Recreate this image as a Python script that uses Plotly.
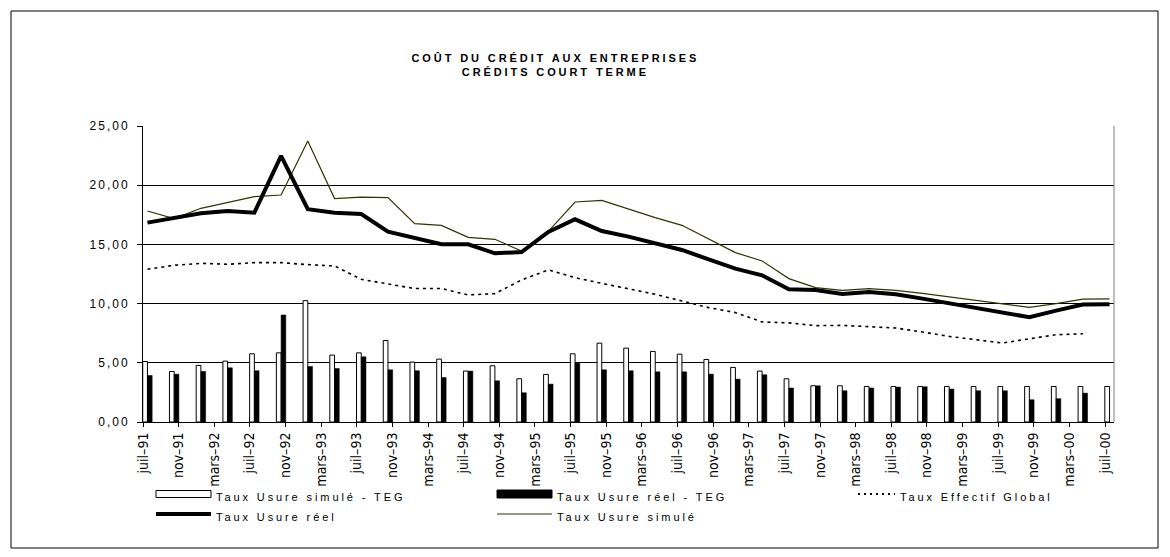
import plotly.graph_objects as go

# ---------------- data (quarterly observations) ----------------
periods = ["1991-07", "1991-10", "1992-01", "1992-04", "1992-07", "1992-10",
           "1993-01", "1993-04", "1993-07", "1993-10", "1994-01", "1994-04",
           "1994-07", "1994-10", "1995-01", "1995-04", "1995-07", "1995-10",
           "1996-01", "1996-04", "1996-07", "1996-10", "1997-01", "1997-04",
           "1997-07", "1997-10", "1998-01", "1998-04", "1998-07", "1998-10",
           "1999-01", "1999-04", "1999-07", "1999-10", "2000-01", "2000-04",
           "2000-07"]

usure_simule_teg = [5.11, 4.27, 4.78, 5.14, 5.76, 5.84, 10.25, 5.65, 5.84, 6.88,
                    5.06, 5.31, 4.30, 4.75, 3.65, 4.02, 5.76, 6.66, 6.24, 5.96,
                    5.73, 5.28, 4.61, 4.30, 3.65, 3.06, 3.06, 3.00, 3.00, 3.00,
                    3.00, 3.00, 3.00, 3.00, 3.00, 3.00, 3.00]

usure_reel_teg = [3.93, 4.04, 4.27, 4.58, 4.33, 9.04, 4.69, 4.52, 5.51, 4.41,
                  4.33, 3.76, 4.30, 3.48, 2.47, 3.20, 4.97, 4.41, 4.33, 4.24,
                  4.24, 4.04, 3.62, 3.99, 2.87, 3.06, 2.64, 2.87, 2.95, 2.98,
                  2.78, 2.64, 2.64, 1.88, 1.97, 2.44, None]

taux_effectif_global = [12.90, 13.24, 13.40, 13.32, 13.46, 13.46, 13.29, 13.18,
                        12.05, 11.69, 11.27, 11.27, 10.73, 10.84, 12.00, 12.85,
                        12.19, 11.71, 11.27, 10.79, 10.22, 9.66, 9.24, 8.45,
                        8.37, 8.14, 8.16, 8.05, 7.94, 7.60, 7.23, 6.95, 6.67,
                        7.03, 7.37, 7.45, None]

taux_usure_reel = [16.84, 17.26, 17.63, 17.82, 17.68, 22.47, 17.97, 17.68, 17.57,
                   16.08, 15.57, 15.01, 15.01, 14.25, 14.36, 16.05, 17.12, 16.13,
                   15.66, 15.09, 14.53, 13.74, 12.95, 12.39, 11.21, 11.15, 10.81,
                   10.98, 10.79, 10.42, 10.03, 9.66, 9.29, 8.85, 9.41, 9.92, 9.94]

taux_usure_simule = [17.82, 17.18, 18.05, 18.53, 19.04, 19.17, 23.73, 18.87, 19.00,
                     18.95, 16.76, 16.61, 15.60, 15.43, 14.44, 16.10, 18.58, 18.72,
                     17.96, 17.26, 16.61, 15.49, 14.31, 13.60, 12.11, 11.35, 11.12,
                     11.27, 11.12, 10.87, 10.56, 10.28, 10.00, 9.68, 10.00, 10.38,
                     10.40]

tick_labels = ["juil–91", "nov–91", "mars–92", "juil–92", "nov–92", "mars–93",
               "juil–93", "nov–93", "mars–94", "juil–94", "nov–94", "mars–95",
               "juil–95", "nov–95", "mars–96", "juil–96", "nov–96", "mars–97",
               "juil–97", "nov–97", "mars–98", "juil–98", "nov–98", "mars–99",
               "juil–99", "nov–99", "mars–00", "juil–00"]

series_names = ["Taux Usure simulé - TEG", "Taux Usure réel - TEG",
                "Taux Effectif Global", "Taux Usure réel", "Taux Usure simulé"]

title_lines = ["COÛT DU CRÉDIT AUX ENTREPRISES", "CRÉDITS COURT TERME"]

# ---------------- helpers ----------------
START_Y, START_M = 1991, 7


def month_index(ym):
    y, m = ym.split("-")
    return (int(y) - START_Y) * 12 + int(m) - START_M


MONTHS_FR = {"janv": 1, "févr": 2, "mars": 3, "avr": 4, "mai": 5, "juin": 6,
             "juil": 7, "août": 8, "sept": 9, "oct": 10, "nov": 11, "déc": 12}


def label_index(lbl):
    mon, yy = lbl.split("–")
    year = 1900 + int(yy) if int(yy) > 50 else 2000 + int(yy)
    return (year - START_Y) * 12 + MONTHS_FR[mon] - START_M


x_pts = [month_index(p) + 0.5 for p in periods]
tick_vals = [label_index(t) for t in tick_labels]

# ---------------- layout geometry (pixels) ----------------
OFF = 8                     # page body margin
W, H = 1154, 541            # figure size
ML, MT = 135, 118
PW = 1106 - ML              # plot right edge at 1106 (figure coords)
PH = 414 - MT               # plot bottom at 414 (figure coords)
MR, MB = W - ML - PW, H - MT - PH


def fx(px):  # page x -> paper
    return (px - OFF - ML) / PW


def fy(py):  # page y -> paper
    return (MT + PH - (py - OFF)) / PH


BAR_W = 0.53
FONT = "Liberation Sans, Arial, sans-serif"

fig = go.Figure()

fig.add_trace(go.Bar(x=x_pts, y=usure_simule_teg, name=series_names[0],
                     width=BAR_W, offset=-BAR_W,
                     marker=dict(color="white", line=dict(color="black", width=1)),
                     showlegend=False))
fig.add_trace(go.Bar(x=x_pts, y=usure_reel_teg, name=series_names[1],
                     width=BAR_W, offset=0,
                     marker=dict(color="black", line=dict(color="black", width=0.5)),
                     showlegend=False))
fig.add_trace(go.Scatter(x=x_pts, y=taux_effectif_global, name=series_names[2],
                         mode="lines", line=dict(color="black", width=1.6, dash="3px,4px"),
                         showlegend=False))
fig.add_trace(go.Scatter(x=x_pts, y=taux_usure_simule, name=series_names[4],
                         mode="lines", line=dict(color="#333300", width=1.2),
                         showlegend=False))
fig.add_trace(go.Scatter(x=x_pts, y=taux_usure_reel, name=series_names[3],
                         mode="lines", line=dict(color="black", width=4),
                         showlegend=False))

shapes = []
# right frame of plot area
shapes.append(dict(type="line", xref="paper", yref="paper", x0=1, x1=1, y0=0, y1=1,
                   line=dict(color="#808080", width=1)))
# outer chart border
shapes.append(dict(type="rect", xref="paper", yref="paper",
                   x0=fx(11), x1=fx(1158), y0=fy(548), y1=fy(11),
                   line=dict(color="black", width=1), fillcolor="rgba(0,0,0,0)"))

# ---- custom legend ----
col_x = [156, 497, 840]
row_y = [497, 517]
SYM_W = 55
annotations = []
legend_items = [
    (0, 0, "rect_white", series_names[0]),
    (1, 0, "rect_black", series_names[1]),
    (2, 0, "dots", series_names[2]),
    (0, 1, "thick", series_names[3]),
    (1, 1, "thin", series_names[4]),
]
for ci, ri, kind, name in legend_items:
    x0 = col_x[ci]
    x1 = x0 + SYM_W
    yc = row_y[ri] - 3
    if kind == "rect_white":
        shapes.append(dict(type="rect", xref="paper", yref="paper",
                           x0=fx(x0), x1=fx(x1), y0=fy(yc + 3.5), y1=fy(yc - 3.5),
                           line=dict(color="black", width=1), fillcolor="white"))
    elif kind == "rect_black":
        shapes.append(dict(type="rect", xref="paper", yref="paper",
                           x0=fx(x0), x1=fx(x1), y0=fy(yc + 4), y1=fy(yc - 4),
                           line=dict(color="black", width=1), fillcolor="black"))
    elif kind == "dots":
        shapes.append(dict(type="line", xref="paper", yref="paper",
                           x0=fx(x0 + 18), x1=fx(x1), y0=fy(yc), y1=fy(yc),
                           line=dict(color="black", width=2, dash="2px,4px")))
    elif kind == "thick":
        shapes.append(dict(type="line", xref="paper", yref="paper",
                           x0=fx(x0), x1=fx(x1), y0=fy(yc), y1=fy(yc),
                           line=dict(color="black", width=4)))
    else:
        shapes.append(dict(type="line", xref="paper", yref="paper",
                           x0=fx(x0), x1=fx(x1), y0=fy(yc), y1=fy(yc),
                           line=dict(color="#333300", width=1.2)))
    annotations.append(dict(text=name, xref="paper", yref="paper",
                            x=fx(x1 + 3), y=fy(row_y[ri]), xanchor="left",
                            yanchor="middle", showarrow=False, align="left",
                            font=dict(family=FONT, size=11, color="black")))

# title
annotations.insert(0, dict(text="<b>" + title_lines[0] + "</b><br><b>" + title_lines[1] + "</b>",
                           xref="paper", yref="paper", x=fx(555), y=fy(65),
                           xanchor="center", yanchor="middle", showarrow=False,
                           align="center",
                           font=dict(family=FONT, size=11, color="black")))

fig.update_layout(
    width=W, height=H,
    margin=dict(l=ML, r=MR, t=MT, b=MB, pad=0),
    paper_bgcolor="white", plot_bgcolor="white",
    separators=", ",
    barmode="overlay",
    showlegend=False,
    shapes=shapes,
    annotations=annotations,
    xaxis=dict(range=[0, 109], tickmode="array", tickvals=tick_vals, ticktext=tick_labels,
               tickangle=-90, ticks="outside", ticklen=4, tickcolor="black",
               showline=True, linecolor="black", linewidth=1, showgrid=False,
               zeroline=False,
               tickfont=dict(family="Liberation Sans Narrow, Arial Narrow, DejaVu Sans Condensed, sans-serif",
                             size=14, color="black")),
    yaxis=dict(range=[0, 25], dtick=5, tick0=0, tickformat=".2f",
               ticks="outside", ticklen=5, tickcolor="black", ticklabelstandoff=5,
               showline=True, linecolor="black", linewidth=1,
               showgrid=True, gridcolor="black", gridwidth=1, zeroline=False,
               tickfont=dict(family=FONT, size=12, color="black")),
)

css = (".ytick text{letter-spacing:2px;}"
       ".annotation text{letter-spacing:2.9px;}")
post = ("var s=document.createElement('style');s.textContent=\"" + css + "\";"
        "document.head.appendChild(s);")

fig.write_html("out.html", post_script=post)
